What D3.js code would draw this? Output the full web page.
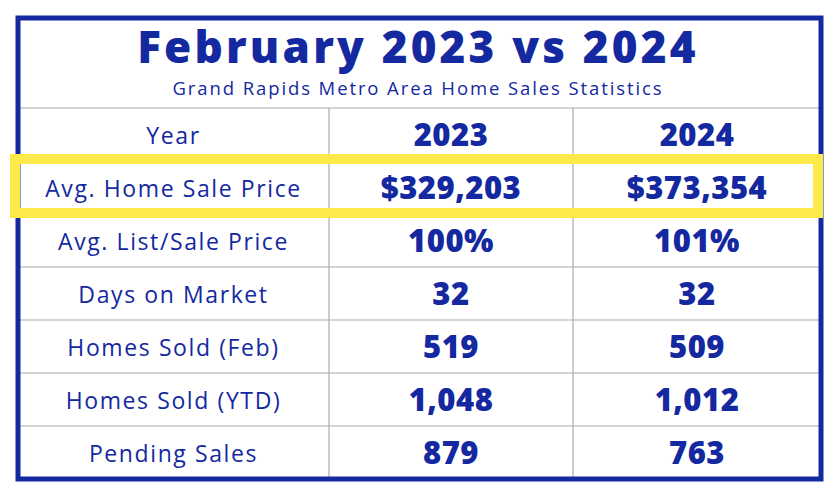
<!DOCTYPE html><html><head><meta charset="utf-8"><script src="https://cdn.jsdelivr.net/npm/d3@7"></script>
<style>body{margin:0;background:#fff}</style></head><body><svg id="c" width="839" height="500"></svg>
<script>
const title="February 2023 vs 2024";
const subtitle="Grand Rapids Metro Area Home Sales Statistics";
const rowLabels=["Year","Avg. Home Sale Price","Avg. List/Sale Price","Days on Market","Homes Sold (Feb)","Homes Sold (YTD)","Pending Sales"];
const col2023=["2023","$329,203","100%","32","519","1,048","879"];
const col2024=["2024","$373,354","101%","32","509","1,012","763"];
const highlightRow=1;
const blue="#1428a0";
const svg=d3.select("#c");
const L=18,R=821,T=18,B=479;
const y=d3.scaleBand().domain(d3.range(rowLabels.length)).range([108,B]);
const x=d3.scaleOrdinal().domain([0,1,2,3]).range([L,329,573,R]);
const g=svg.append("g").attr("stroke","#aaa").attr("stroke-width",1.2);
g.append("line").attr("x1",L).attr("x2",R).attr("y1",108).attr("y2",108);
d3.range(1,rowLabels.length).forEach(i=>g.append("line").attr("x1",L).attr("x2",R).attr("y1",y(i)).attr("y2",y(i)));
[1,2].forEach(c=>g.append("line").attr("x1",x(c)).attr("x2",x(c)).attr("y1",108).attr("y2",B));
svg.append("rect").attr("x",L).attr("y",T).attr("width",R-L).attr("height",B-T).attr("fill","none").attr("stroke",blue).attr("stroke-width",5);
svg.append("text").attr("x",418).attr("y",63).attr("text-anchor","middle").attr("fill",blue).attr("font-family","Open Sans, sans-serif").attr("font-weight",800).attr("font-size",44).attr("letter-spacing",3.2).text(title);
svg.append("text").attr("x",418).attr("y",95).attr("text-anchor","middle").attr("fill",blue).attr("font-family","Open Sans, sans-serif").attr("font-size",18.5).attr("letter-spacing",1.9).text(subtitle);
const bh=y.bandwidth();
rowLabels.forEach((lab,i)=>{
 const cy=y(i)+bh/2;
 svg.append("text").attr("x",(x(0)+x(1))/2).attr("y",cy+9).attr("text-anchor","middle").attr("fill",blue).attr("font-family","Open Sans, sans-serif").attr("font-size",23).attr("letter-spacing",1.6).text(lab);
 [col2023[i],col2024[i]].forEach((v,j)=>{
  svg.append("text").attr("x",(x(j+1)+x(j+2))/2).attr("y",cy+11).attr("text-anchor","middle").attr("fill",blue).attr("font-family","Open Sans, sans-serif").attr("font-weight",800).attr("font-size",31).attr("letter-spacing",0.5).text(v);
 });
});
svg.append("rect").attr("x",15).attr("y",y(highlightRow)-2).attr("width",803).attr("height",bh+1).attr("fill","none").attr("stroke","#fdea4a").attr("stroke-width",10);
</script></body></html>
